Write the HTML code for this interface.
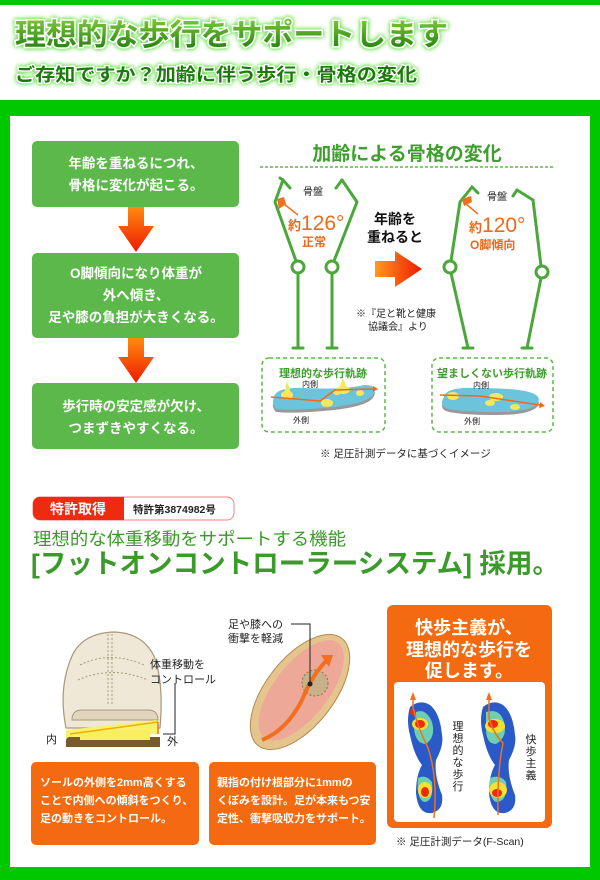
<!DOCTYPE html>
<html><head><meta charset="utf-8">
<style>
html,body{margin:0;padding:0;background:#fff;}
svg{display:block;}
text{font-family:"Liberation Sans","Noto Sans CJK JP",sans-serif;}
</style></head><body>
<svg width="600" height="880" viewBox="0 0 600 880" xmlns="http://www.w3.org/2000/svg">
<defs>
<linearGradient id="tg" x1="0" y1="0" x2="0" y2="1"><stop offset="0" stop-color="#7ac83a"/><stop offset="1" stop-color="#1e7a0c"/></linearGradient>
<linearGradient id="ar" x1="0" y1="0" x2="0" y2="1"><stop offset="0" stop-color="#ff8a10"/><stop offset="1" stop-color="#ee1a00"/></linearGradient>
<linearGradient id="ar2" x1="0" y1="0" x2="1" y2="0"><stop offset="0" stop-color="#ff9a20"/><stop offset="1" stop-color="#ee1a00"/></linearGradient>
<filter id="glow" x="-10%" y="-30%" width="120%" height="160%"><feGaussianBlur in="SourceAlpha" stdDeviation="2.5" result="b"/><feFlood flood-color="#6ee050"/><feComposite in2="b" operator="in"/><feMerge><feMergeNode/><feMergeNode/><feMergeNode in="SourceGraphic"/></feMerge></filter>
</defs>
<rect x="0" y="0" width="600" height="5" fill="#00c800"/>
<rect x="0" y="100" width="600" height="780" fill="#00c800"/>
<rect x="10" y="116" width="580" height="751" fill="#fff"/>
<text x="15" y="45" font-size="30" font-weight="bold" fill="url(#tg)" stroke="#fff" stroke-width="3" paint-order="stroke" filter="url(#glow)" textLength="433" lengthAdjust="spacingAndGlyphs">理想的な歩行をサポートします</text>
<text x="15" y="81" font-size="18" font-weight="bold" fill="#1e7a0c" stroke="#fff" stroke-width="2.5" paint-order="stroke" filter="url(#glow)" textLength="402" lengthAdjust="spacingAndGlyphs">ご存知ですか？加齢に伴う歩行・骨格の変化</text>

<g fill="#5cb84a">
<rect x="32" y="141" width="207" height="66" rx="5"/>
<rect x="32" y="253" width="207" height="85" rx="5"/>
<rect x="32" y="383" width="207" height="66" rx="5"/>
</g>
<path d="M128 207h16v19h10l-18 26-18-26h10z" fill="url(#ar)"/>
<path d="M128 338h16v19h10l-18 26-18-26h10z" fill="url(#ar)"/>
<g fill="#fff" font-size="13.5" font-weight="bold" text-anchor="middle">
<text x="136" y="168">年齢を重ねるにつれ、</text>
<text x="136" y="190">骨格に変化が起こる。</text>
<text x="136" y="278">O脚傾向になり体重が</text>
<text x="136" y="300">外へ傾き、</text>
<text x="136" y="322">足や膝の負担が大きくなる。</text>
<text x="136" y="411">歩行時の安定感が欠け、</text>
<text x="136" y="433">つまずきやすくなる。</text>
</g>

<text x="407" y="160" font-size="19" font-weight="bold" fill="#3e9e2e" text-anchor="middle">加齢による骨格の変化</text>
<line x1="260" y1="167" x2="555" y2="167" stroke="#5cb84a" stroke-width="1.5" stroke-dasharray="3,2"/>
<g stroke="#4aa83a" stroke-width="3" fill="none" stroke-linecap="round">
<polyline points="283,180 275,202 296,261"/><line x1="283" y1="180" x2="290" y2="188"/><line x1="283" y1="180" x2="280" y2="178"/>
<line x1="298" y1="273" x2="298" y2="348"/><line x1="293" y1="348" x2="303" y2="348"/>
<polyline points="342,180 357,202 334,261"/><line x1="342" y1="180" x2="336" y2="188"/>
<line x1="332" y1="273" x2="332" y2="348"/><line x1="327" y1="348" x2="337" y2="348"/>
<polyline points="472,187 460,202 451,261"/><line x1="472" y1="187" x2="478" y2="193"/>
<line x1="451" y1="273" x2="468" y2="348"/><line x1="463" y1="348" x2="473" y2="348"/>
<polyline points="517,190 533,200 541,266"/><line x1="517" y1="190" x2="513" y2="196"/>
<line x1="541" y1="278" x2="527" y2="348"/><line x1="522" y1="348" x2="532" y2="348"/>
</g>
<g stroke="#4aa83a" stroke-width="3" fill="#fff">
<circle cx="298" cy="267" r="6"/><circle cx="332" cy="267" r="6"/>
<circle cx="450" cy="267" r="6"/><circle cx="542" cy="272" r="6"/>
</g>
<path d="M277 199 l7 -2 l2 7 l-7 5z" fill="#f07020"/>
<line x1="284" y1="204" x2="298" y2="215" stroke="#f07020" stroke-width="1.5"/>
<path d="M462 199 l9 -3 l1 6 l-8 4z" fill="#f07020"/>
<line x1="466" y1="204" x2="478" y2="214" stroke="#f07020" stroke-width="1.5"/>
<g font-size="10" fill="#222"><text x="303" y="195">骨盤</text><text x="487" y="200">骨盤</text></g>
<g fill="#f06818" font-weight="bold">
<text x="288" y="230" font-size="13">約<tspan font-size="21" font-weight="normal">126°</tspan></text>
<text x="302" y="246" font-size="12">正常</text>
<text x="469" y="232" font-size="13">約<tspan font-size="21" font-weight="normal">120°</tspan></text>
<text x="470" y="249" font-size="12">O脚傾向</text>
</g>
<g font-size="14" font-weight="bold" fill="#111" text-anchor="middle"><text x="395" y="224">年齢を</text><text x="395" y="242">重ねると</text></g>
<path d="M375 261h20v-10l27 18-27 18v-10h-20z" fill="url(#ar2)"/>
<g font-size="10" fill="#222"><text x="356" y="317">※『足と靴と健康</text><text x="368" y="330">協議会』より</text></g>

<g fill="none" stroke="#5cb84a" stroke-width="1.5" stroke-dasharray="4,3">
<rect x="262" y="358" width="123" height="74" rx="7"/>
<rect x="432" y="358" width="121" height="74" rx="7"/>
</g>
<g font-size="11" font-weight="bold" fill="#3e9e2e" text-anchor="middle"><text x="323" y="377">理想的な歩行軌跡</text><text x="492" y="377">望ましくない歩行軌跡</text></g>
<path d="M274 400 q2-10 30-9 q40 2 60-3 q14 0 10 8 q-4 10-40 14 q-40 4-58 2 q-5-5-2-12z" fill="#999"/>
<path d="M274 397 q2-10 30-9 q40 2 60-3 q14 0 10 8 q-4 10-40 14 q-40 4-58 2 q-5-5-2-12z" fill="#6cc4dc"/>
<path d="M284 393 l3-12 l4 12z M338 391 l5-13 l5 13z" fill="#f4e860"/>
<ellipse cx="287" cy="395" rx="6" ry="4" fill="#f4e860"/><ellipse cx="343" cy="390" rx="7" ry="4" fill="#f4e860"/>
<ellipse cx="327" cy="403" rx="6" ry="4" fill="#f4e860"/><ellipse cx="360" cy="393" rx="4" ry="3" fill="#f4e860"/><ellipse cx="337" cy="392" rx="4" ry="3" fill="#f4e860"/>
<polyline points="271,397 320,401 335,390 373,389" fill="none" stroke="#f06818" stroke-width="1.5"/>
<path d="M373 386l5 3-5 3z" fill="#f06818"/>
<path d="M444 400 q2-10 30-9 q40 0 55 4 q14 4 8 12 q-8 8-40 8 q-45 0-53-5 q-4-4 0-10z" fill="#999"/>
<path d="M444 397 q2-10 30-9 q40 0 55 4 q14 4 8 12 q-8 8-40 8 q-45 0-53-5 q-4-4 0-10z" fill="#6cc4dc"/>
<ellipse cx="453" cy="396" rx="6" ry="4" fill="#f4e860"/><ellipse cx="496" cy="397" rx="7" ry="4" fill="#f4e860"/>
<ellipse cx="490" cy="403" rx="5" ry="3" fill="#f4e860"/><ellipse cx="515" cy="407" rx="5" ry="3" fill="#f4e860"/>
<polyline points="440,395 480,396 540,405" fill="none" stroke="#f06818" stroke-width="1.5"/>
<path d="M540 402l5 4-6 2z" fill="#f06818"/>
<g font-size="8" fill="#222"><text x="302" y="387">内側</text><text x="293" y="423">外側</text><text x="473" y="388">内側</text><text x="464" y="424">外側</text></g>
<text x="320" y="457" font-size="10.5" fill="#222">※ 足圧計測データに基づくイメージ</text>

<rect x="33" y="497" width="201" height="23" rx="7" fill="#fff" stroke="#f08080" stroke-width="1"/>
<path d="M40 497h84v23h-84a7 7 0 0 1-7-7v-9a7 7 0 0 1 7-7z" fill="#ee2a10"/>
<text x="78" y="514" font-size="14" font-weight="bold" fill="#fff" text-anchor="middle">特許取得</text>
<text x="133" y="513" font-size="10.5" font-weight="bold" fill="#222">特許第3874982号</text>
<text x="33" y="545" font-size="17.5" fill="#3a9a2a" textLength="313" lengthAdjust="spacingAndGlyphs">理想的な体重移動をサポートする機能</text>
<text x="31" y="573" font-size="27" font-weight="bold" fill="#3a9a2a" textLength="528" lengthAdjust="spacingAndGlyphs">[フットオンコントローラーシステム] 採用。</text>

<path d="M66 728 q-8-40 6-72 q10-22 40-24 q30 0 42 24 q10 26 6 72z" fill="#efe8d6" stroke="#a89878" stroke-width="1.2"/>
<path d="M72 720 q0-10 10-10 h66 q10 0 10 10z" fill="#e0d6c0" stroke="#a89878"/>
<g stroke="#a89878" stroke-dasharray="2,2" fill="none"><path d="M108 634 v70"/><path d="M112 634 v70"/><path d="M80 665 q30-15 64 0"/><path d="M78 680 q34-15 70 0"/></g>
<path d="M66 730 l90-10 l4 14 l-94 4z" fill="#f8f070"/>
<path d="M70 737 q-4 0-4 4 v6 h94 v-10z" fill="#7a5a2a"/>
<rect x="80" y="730" width="70" height="10" fill="#f8ee60"/>
<line x1="70" y1="734" x2="158" y2="722" stroke="#f0b000" stroke-width="1.5"/>
<line x1="158" y1="722" x2="158" y2="734" stroke="#d04010" stroke-width="1"/>
<path d="M163 734 h12 v-51" fill="none" stroke="#222" stroke-width="1"/>
<g font-size="11" fill="#222"><text x="150" y="668">体重移動を</text><text x="150" y="683">コントロール</text>
<text x="46" y="743" font-size="11">内</text><text x="167" y="745" font-size="11">外</text></g>
<g transform="rotate(-52 300 692)">
<ellipse cx="300" cy="692" rx="68" ry="34" fill="#e6c48e" stroke="#b08a50"/>
<ellipse cx="302" cy="692" rx="60" ry="27" fill="#eea898"/>
</g>
<circle cx="315" cy="683" r="13" fill="#c8b088" stroke="#8a7050" stroke-dasharray="2,2"/>
<path d="M262 740 q25-10 40-40 q10-25 25-40" fill="none" stroke="#f07020" stroke-width="4"/>
<path d="M321 655 l12 0 l-4 12z" fill="#f07020"/>
<circle cx="310" cy="684" r="2.5" fill="#222"/>
<path d="M291 624 h19 v60" fill="none" stroke="#222" stroke-width="1"/>
<g font-size="11" fill="#222"><text x="228" y="628">足や膝への</text><text x="228" y="642">衝撃を軽減</text></g>

<rect x="31" y="762" width="168" height="83" rx="5" fill="#f46a10"/>
<rect x="209" y="762" width="167" height="83" rx="5" fill="#f46a10"/>
<g fill="#fff" font-size="11" font-weight="bold">
<text x="40" y="786">ソールの外側を2mm高くする</text>
<text x="40" y="804">ことで内側への傾斜をつくり、</text>
<text x="40" y="822">足の動きをコントロール。</text>
<text x="217" y="786">親指の付け根部分に1mmの</text>
<text x="217" y="804">くぼみを設計。足が本来もつ安</text>
<text x="217" y="822">定性、衝撃吸収力をサポート。</text>
</g>

<rect x="387" y="605" width="165" height="223" rx="6" fill="#f46a10"/>
<rect x="394" y="682" width="151" height="140" rx="4" fill="#fff"/>
<g fill="#fff" font-size="18" font-weight="bold" text-anchor="middle">
<text x="469" y="634">快歩主義が、</text><text x="469" y="656">理想的な歩行を</text><text x="469" y="677">促します。</text></g>
<g>
<path d="M410 707 q10-8 20-2 q10 8 12 30 q2 10 -6 25 q-2 15 6 35 q2 15-10 18 q-14 2-16-20 q0-18 6-28 q-8-10-12-30 q-4-15 0-28z" fill="#2a5ac8"/>
<path d="M416 712 q10-4 16 10 q4 15-6 22 q-10 0-12-15z M418 778 q8-4 14 4 q2 20-8 20 q-8-4-6-24z" fill="#6ed0b0"/>
<ellipse cx="420" cy="724" rx="8" ry="6" fill="#f8e030"/><ellipse cx="420" cy="724" rx="5" ry="4" fill="#ee2a10"/>
<ellipse cx="425" cy="790" rx="7" ry="8" fill="#f8e030"/><ellipse cx="425" cy="792" rx="4" ry="5" fill="#ee2a10"/>
<circle cx="413" cy="712" r="3" fill="#ee2a10"/>
<path d="M483 707 q10-8 20-2 q10 8 12 30 q2 10 -6 25 q-2 15 6 35 q2 15-10 18 q-14 2-16-20 q0-18 6-28 q-8-10-12-30 q-4-15 0-28z" fill="#2a5ac8"/>
<path d="M486 712 q14-4 18 10 q4 15-8 22 q-10 0-10-15z M490 778 q10-4 16 4 q2 20-10 20 q-8-4-6-24z" fill="#6ed0b0"/>
<ellipse cx="495" cy="726" rx="10" ry="7" fill="#f8e030"/><ellipse cx="493" cy="724" rx="5" ry="4" fill="#ee2a10"/>
<ellipse cx="498" cy="790" rx="9" ry="8" fill="#f8e030"/><ellipse cx="497" cy="793" rx="5" ry="4" fill="#ee2a10"/>
<path d="M413 698 v10 q5 20 15 40 q10 30 6 70" fill="none" stroke="#f07020" stroke-width="1.5"/>
<path d="M410 700 l3-8 l3 8z" fill="#f07020"/>
<path d="M489 698 v20 q4 15 14 25 q-6 30 -5 72" fill="none" stroke="#f07020" stroke-width="1.5"/>
<path d="M486 700 l3-8 l3 8z" fill="#f07020"/>
</g>
<g font-size="11" fill="#222" text-anchor="middle">
<text x="458" y="730">理</text><text x="458" y="742">想</text><text x="458" y="754">的</text><text x="458" y="766">な</text><text x="458" y="778">歩</text><text x="458" y="790">行</text>
<text x="531" y="743">快</text><text x="531" y="755">歩</text><text x="531" y="767">主</text><text x="531" y="779">義</text>
</g>
<text x="396" y="845" font-size="10.5" fill="#222">※ 足圧計測データ(F-Scan)</text>
</svg>
</body></html>
